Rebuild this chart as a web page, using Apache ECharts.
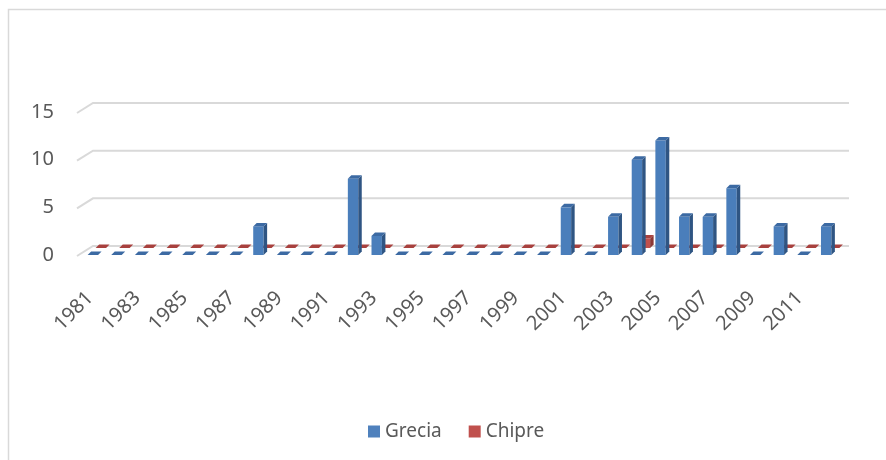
<!DOCTYPE html>
<html>
<head>
<meta charset="utf-8">
<script src="https://cdn.jsdelivr.net/npm/echarts@6/dist/echarts.min.js"></script>
<style>
  html, body { margin: 0; padding: 0; background: #fff; }
  #chart { width: 886px; height: 460px; }
</style>
</head>
<body>
<div id="chart"></div>
<script>
// años y valores
const years = ["1981", "1982", "1983", "1984", "1985", "1986", "1987", "1988",
  "1989", "1990", "1991", "1992", "1993", "1994", "1995", "1996", "1997", "1998",
  "1999", "2000", "2001", "2002", "2003", "2004", "2005", "2006", "2007", "2008",
  "2009", "2010", "2011", "2012"];
const grecia = [0, 0, 0, 0, 0, 0, 0, 3, 0, 0, 0, 8, 2, 0, 0, 0, 0, 0, 0, 0,
  5, 0, 4, 10, 12, 4, 4, 7, 0, 3, 0, 3];
const chipre = [0, 0, 0, 0, 0, 0, 0, 0, 0, 0, 0, 0, 0, 0, 0, 0, 0, 0, 0, 0,
  0, 0, 0, 1, 0, 0, 0, 0, 0, 0, 0, 0];
const yTicks = [0, 5, 10, 15];

const textColor = "#595959";
const font = "Noto Sans";

// barra con cara frontal, lateral y superior (efecto 3D de Excel)
function bar3d(offX, offY, front, side, top) {
  return function (params, api) {
    const idx = api.value(0);
    const v = api.value(1);
    const base = api.coord([idx, 0]);
    const tip = api.coord([idx, v]);
    const bw = api.size([1, 0])[0] * 0.44;
    const dx = 3.5, dy = -3.5;
    const x0 = base[0] - bw / 2 + offX;
    const x1 = x0 + bw;
    const yb = base[1] + offY;
    const yt = tip[1] + offY;
    const kids = [];
    if (yb - yt > 0.5) {
      kids.push({ type: "rect", shape: { x: x0, y: yt, width: bw, height: yb - yt },
        style: { fill: front } });
      kids.push({ type: "polygon",
        shape: { points: [[x1, yt], [x1 + dx, yt + dy], [x1 + dx, yb + dy], [x1, yb]] },
        style: { fill: side } });
    }
    kids.push({ type: "polygon",
      shape: { points: [[x0, yt], [x1, yt], [x1 + dx, yt + dy], [x0 + dx, yt + dy]] },
      style: { fill: top } });
    return { type: "group", children: kids };
  };
}

// líneas de la cuadrícula en la pared del fondo
function gridLine(params, api) {
  const p = api.coord([0, api.value(1)]);
  const cs = params.coordSys;
  return {
    type: "polyline",
    shape: { points: [[cs.x - 4, p[1] + 1], [cs.x + 12, p[1] - 9], [849, p[1] - 9]] },
    style: { stroke: "#d9d9d9", lineWidth: 2, fill: null }
  };
}

const chart = echarts.init(document.getElementById("chart"));
const option = {
  animation: false,
  backgroundColor: "#fff",
  graphic: [{
    type: "rect", silent: true,
    shape: { x: 8.5, y: 9.5, width: 1000, height: 1000 },
    style: { fill: null, stroke: "#d9d9d9", lineWidth: 1.5 }
  }],
  grid: { left: 81, right: 48, top: 112, bottom: 205 },
  legend: {
    data: ["Grecia", "Chipre"],
    left: 363, top: 417,
    icon: "rect", itemWidth: 12, itemHeight: 12, itemGap: 27,
    textStyle: { color: textColor, fontSize: 19, fontFamily: font }
  },
  xAxis: {
    type: "category",
    data: years,
    axisLine: { show: false },
    axisTick: { show: false },
    axisLabel: { interval: 1, rotate: 45, margin: 37, padding: [0, 4, 0, 0],
      color: textColor, fontSize: 20, fontFamily: font }
  },
  yAxis: {
    type: "value",
    min: 0, max: 15, interval: 5,
    splitLine: { show: false },
    axisLine: { show: false },
    axisTick: { show: false },
    axisLabel: { margin: 27, color: textColor, fontSize: 20, fontFamily: font }
  },
  series: [
    {
      name: "cuadricula", type: "custom", silent: true, z: 1,
      renderItem: gridLine,
      data: yTicks.map(v => [0, v]),
      encode: { x: 0, y: 1 }
    },
    {
      name: "Chipre", type: "custom", z: 2,
      itemStyle: { color: "#c0504d" },
      renderItem: bar3d(8, -7, "#c0504d", "#8c3836", "#a8413e"),
      data: chipre.map((v, i) => [i, v]),
      encode: { x: 0, y: 1 }
    },
    {
      name: "Grecia", type: "custom", z: 3,
      itemStyle: { color: "#4f81bd" },
      renderItem: bar3d(0, 0, "#4a7ebb", "#2f5583", "#3c6aa3"),
      data: grecia.map((v, i) => [i, v]),
      encode: { x: 0, y: 1 }
    }
  ]
};
chart.setOption(option);
</script>
</body>
</html>
